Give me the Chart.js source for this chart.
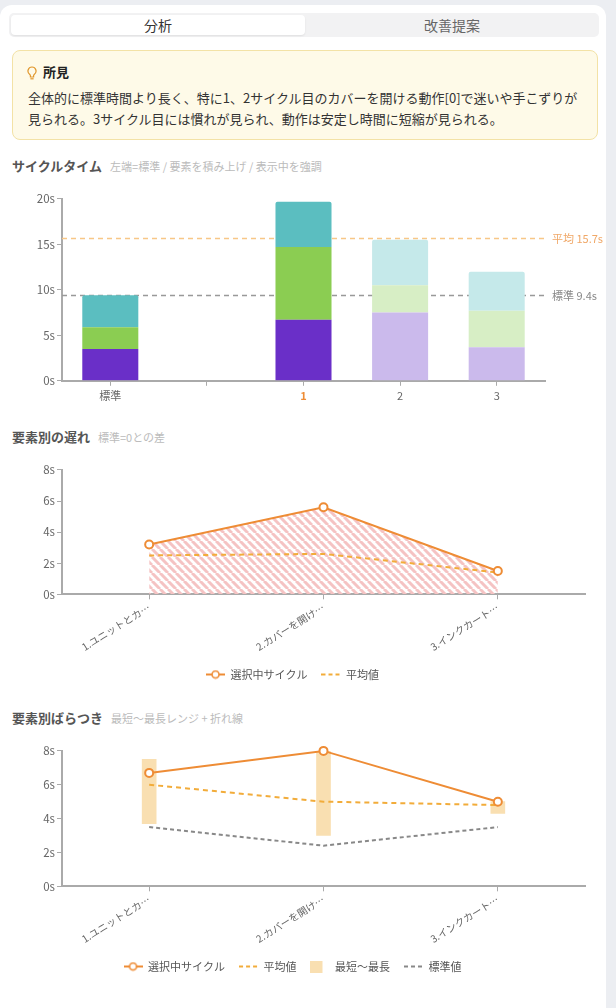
<!DOCTYPE html>
<html>
<head>
<meta charset="utf-8">
<script src="https://cdn.jsdelivr.net/npm/chart.js@4.4.1/dist/chart.umd.min.js"></script>
<style>
  body { margin: 0; background: #eceef2; font-family: "Noto Sans CJK JP", "Noto Sans", sans-serif; width: 616px; height: 1008px; overflow: hidden; position: relative; }
  .abs { position: absolute; }
  .card { left: 0; top: 5px; width: 606px; height: 1020px; background: #fff; border-radius: 12px; }
  .tabs { left: 9px; top: 13px; width: 590px; height: 24px; background: #f2f2f3; border-radius: 5px; }
  .tab { top: 15px; width: 294px; height: 20px; line-height: 20px; text-align: center; font-size: 14px; }
  .tab.on { left: 11px; background: #fff; border-radius: 4px; box-shadow: 0 1px 2px rgba(0,0,0,.08); color: #333; }
  .tab.off { left: 305px; color: #666; }
  .find { left: 12px; top: 50px; width: 584px; height: 88px; background: #fefae8; border: 1px solid #f3e2a6; border-radius: 8px; }
  .find-title { left: 27px; top: 62px; font-size: 13px; font-weight: bold; color: #222; line-height: 20px; }
  .find-title svg { vertical-align: -3px; margin-right: 6px; }
  .find-body { left: 28px; top: 87px; font-size: 13px; color: #333; line-height: 21px; white-space: nowrap; }
  .sec { left: 12px; font-size: 13px; font-weight: bold; color: #555; line-height: 18px; white-space: nowrap; }
  .sec span { font-size: 11px; font-weight: normal; color: #bbb; margin-left: 8px; }
  .box { left: 0; width: 606px; }
</style>
</head>
<body>
<div class="abs card"></div>
<div class="abs tabs"></div>
<div class="abs tab on">分析</div>
<div class="abs tab off">改善提案</div>

<div class="abs find"></div>
<div class="abs find-title"><svg width="10" height="14" viewBox="0 0 10 14"><path d="M5 1a4 4 0 0 0-2.4 7.2c.5.4.8.9.8 1.5V11h3.2V9.7c0-.6.3-1.1.8-1.5A4 4 0 0 0 5 1z" fill="none" stroke="#e0962a" stroke-width="1.2"/><path d="M3.4 12.8h3.2" stroke="#e0962a" stroke-width="1.2"/></svg>所見</div>
<div class="abs find-body">全体的に標準時間より長く、特に1、2サイクル目のカバーを開ける動作[0]で迷いや手こずりが<br>見られる。3サイクル目には慣れが見られ、動作は安定し時間に短縮が見られる。</div>

<div class="abs sec" style="top:157px">サイクルタイム<span>左端=標準 / 要素を積み上げ / 表示中を強調</span></div>
<div class="abs box" style="top:190px;height:215px"><canvas id="cycle"></canvas></div>

<div class="abs sec" style="top:428px">要素別の遅れ<span>標準=0との差</span></div>
<div class="abs box" style="top:461px;height:229px"><canvas id="delay"></canvas></div>

<div class="abs sec" style="top:709px">要素別ばらつき<span>最短〜最長レンジ + 折れ線</span></div>
<div class="abs box" style="top:742px;height:240px"><canvas id="spread"></canvas></div>

<script>
// サイクルタイム（左端=標準, 2番目は空き）
var cycleLabels = ['標準', '', '1', '2', '3'];
var elem1Times = [3.5, null, 6.7, 7.5, 3.7];
var elem2Times = [2.4, null, 8.0, 3.0, 4.0];
var elem3Times = [3.5, null, 5.0, 5.0, 4.3];
var selectedIndex = 2;

// 要素別
var elementLabels = ['1.ユニットとカ…', '2.カバーを開け…', '3.インクカート…'];
var delaySelected = [3.2, 5.6, 1.5];
var delayAverage = [2.5, 2.6, 1.4];

var spreadSelected = [6.7, 8.0, 5.0];
var spreadAverage = [6.0, 5.0, 4.8];
var spreadMin = [3.7, 3.0, 4.3];
var spreadMax = [7.5, 8.0, 5.0];
var spreadStandard = [3.5, 2.4, 3.5];

var FONT = '"Noto Sans CJK JP", "Noto Sans", sans-serif';
var ORANGE = '#ee8c35';
var AVG = '#f2ac3a';

Chart.defaults.font.family = FONT;
Chart.defaults.animation = false;

function fixYWidth(scale) { scale.width = 62; }

function axisGrid() {
  return { display: true, drawOnChartArea: false, drawTicks: true, tickLength: 5, color: '#aaa', offset: false };
}
var axisBorder = { color: '#aaa', width: 2 };

// totals for reference lines
var totals = cycleLabels.map(function (_, i) {
  if (elem1Times[i] == null) return null;
  return elem1Times[i] + elem2Times[i] + elem3Times[i];
});
var stdTotal = totals[0];
var cycTotals = totals.slice(2);
var avgTotal = cycTotals.reduce(function (a, b) { return a + b; }, 0) / cycTotals.length;

function shade(strong, light) {
  return cycleLabels.map(function (_, i) {
    return (i === 0 || i === selectedIndex) ? strong : light;
  });
}

var refLines = {
  id: 'refLines',
  beforeDatasetsDraw: function (chart) {
    var ctx = chart.ctx, a = chart.chartArea, y = chart.scales.y;
    [[avgTotal, '#f8c787', '#f0a868', '平均 '], [stdTotal, '#999', '#888', '標準 ']].forEach(function (r) {
      var py = Math.round(y.getPixelForValue(r[0])) + 0.5;
      ctx.save();
      ctx.setLineDash([5, 4]);
      ctx.lineWidth = 1.5;
      ctx.strokeStyle = r[1];
      ctx.beginPath();
      ctx.moveTo(a.left, py);
      ctx.lineTo(a.right, py);
      ctx.stroke();
      ctx.setLineDash([]);
      ctx.fillStyle = r[2];
      ctx.font = '11px ' + FONT;
      ctx.textBaseline = 'middle';
      ctx.fillText(r[3] + r[0].toFixed(1) + 's', a.right + 7, py);
      ctx.restore();
    });
  }
};

new Chart(document.getElementById('cycle'), {
  type: 'bar',
  data: {
    labels: cycleLabels,
    datasets: [
      { data: elem1Times, backgroundColor: shade('#6a2fc8', '#cbbaec') },
      { data: elem2Times, backgroundColor: shade('#8bcd52', '#d7eec5') },
      { data: elem3Times, backgroundColor: shade('#5bbec0', '#c5e9ea'), borderRadius: { topLeft: 2, topRight: 2 } }
    ]
  },
  options: {
    responsive: true,
    maintainAspectRatio: false,
    layout: { padding: { top: 4, right: 61 } },
    datasets: { bar: { barPercentage: 0.58, categoryPercentage: 1 } },
    plugins: { legend: { display: false }, tooltip: { enabled: false } },
    scales: {
      x: {
        stacked: true,
        grid: axisGrid(),
        border: axisBorder,
        ticks: {
          font: function (c) { return { size: 11, weight: c.index === selectedIndex ? 'bold' : 'normal' }; },
          color: function (c) { return c.index === selectedIndex ? ORANGE : '#666'; },
          padding: 3
        }
      },
      y: {
        stacked: true,
        min: 0, max: 20,
        afterFit: fixYWidth,
        grid: axisGrid(),
        border: axisBorder,
        ticks: { stepSize: 5, color: '#666', font: { size: 11.5 }, padding: 2, callback: function (v) { return v + 's'; } }
      }
    }
  },
  plugins: [refLines]
});

function hatch() {
  var c = document.createElement('canvas');
  c.width = c.height = 8;
  var g = c.getContext('2d');
  g.strokeStyle = '#f5c3c3';
  g.lineWidth = 3;
  g.beginPath();
  [-8, 0, 8].forEach(function (k) { g.moveTo(k, 0); g.lineTo(k + 8, 8); });
  g.stroke();
  return g.createPattern(c, 'repeat');
}

function icon(kind, color) {
  var c = document.createElement('canvas');
  var g = c.getContext('2d');
  c.width = 19;
  if (kind === 'point') {
    c.height = 10;
    g.strokeStyle = color; g.lineWidth = 2;
    g.beginPath(); g.moveTo(0, 5); g.lineTo(19, 5); g.stroke();
    g.fillStyle = '#fff'; g.lineWidth = 1.6;
    g.beginPath(); g.arc(9.5, 5, 3.5, 0, Math.PI * 2); g.fill(); g.stroke();
  } else if (kind === 'dash') {
    c.height = 4;
    g.strokeStyle = color; g.lineWidth = 2;
    g.setLineDash([4, 3]);
    g.beginPath(); g.moveTo(0, 2); g.lineTo(19, 2); g.stroke();
  } else {
    c.height = 12;
    g.fillStyle = color; g.fillRect(0, 0, 12, 12);
  }
  return c;
}

function legendOpts(icons) {
  return {
    position: 'bottom',
    labels: {
      usePointStyle: true,
      pointStyleWidth: 19,
      boxHeight: 11,
      color: '#555',
      font: { size: 11 },
      padding: 14,
      sort: function (a, b) { return a.datasetIndex - b.datasetIndex; },
      generateLabels: function (chart) {
        return Chart.defaults.plugins.legend.labels.generateLabels(chart).map(function (l) {
          l.pointStyle = icons[l.datasetIndex];
          return l;
        });
      }
    }
  };
}

function elemScales() {
  return {
    x: {
      offset: true,
      grid: axisGrid(),
      border: axisBorder,
      ticks: { color: '#666', font: { size: 10 }, minRotation: 32, maxRotation: 32, padding: 2 }
    },
    y: {
      min: 0, max: 8,
      afterFit: fixYWidth,
      grid: axisGrid(),
      border: axisBorder,
      ticks: { stepSize: 2, color: '#666', font: { size: 11.5 }, padding: 2, callback: function (v) { return v + 's'; } }
    }
  };
}

new Chart(document.getElementById('delay'), {
  type: 'line',
  data: {
    labels: elementLabels,
    datasets: [
      {
        label: '選択中サイクル', data: delaySelected, order: 1,
        borderColor: ORANGE, borderWidth: 2, tension: 0, clip: 8,
        pointRadius: 4, pointBackgroundColor: '#fff', pointBorderColor: ORANGE, pointBorderWidth: 2,
        fill: 'origin', backgroundColor: hatch()
      },
      {
        label: '平均値', data: delayAverage, order: 2,
        borderColor: AVG, borderWidth: 2, borderDash: [5, 4], pointRadius: 0, fill: false
      }
    ]
  },
  options: {
    responsive: true,
    maintainAspectRatio: false,
    layout: { padding: { top: 4, right: 21 } },
    plugins: {
      filler: { drawTime: 'beforeDatasetsDraw' },
      tooltip: { enabled: false },
      legend: legendOpts([icon('point', ORANGE), icon('dash', AVG)])
    },
    scales: elemScales()
  }
});

new Chart(document.getElementById('spread'), {
  type: 'line',
  data: {
    labels: elementLabels,
    datasets: [
      {
        label: '選択中サイクル', data: spreadSelected, order: 1,
        borderColor: ORANGE, borderWidth: 2, tension: 0, clip: 8,
        pointRadius: 4, pointBackgroundColor: '#fff', pointBorderColor: ORANGE, pointBorderWidth: 2
      },
      {
        label: '平均値', data: spreadAverage, order: 2,
        borderColor: AVG, borderWidth: 2, borderDash: [5, 4], pointRadius: 0
      },
      {
        type: 'bar', label: '最短〜最長', order: 4,
        data: spreadMin.map(function (m, i) { return [m, spreadMax[i]]; }),
        backgroundColor: '#f9dfb1', barThickness: 14
      },
      {
        label: '標準値', data: spreadStandard, order: 3,
        borderColor: '#888', borderWidth: 2, borderDash: [4, 3], pointRadius: 0
      }
    ]
  },
  options: {
    responsive: true,
    maintainAspectRatio: false,
    layout: { padding: { top: 4, right: 21 } },
    plugins: {
      tooltip: { enabled: false },
      legend: legendOpts([icon('point', ORANGE), icon('dash', AVG), icon('box', '#f9dfb1'), icon('dash', '#888')])
    },
    scales: elemScales()
  }
});
</script>
</body>
</html>
